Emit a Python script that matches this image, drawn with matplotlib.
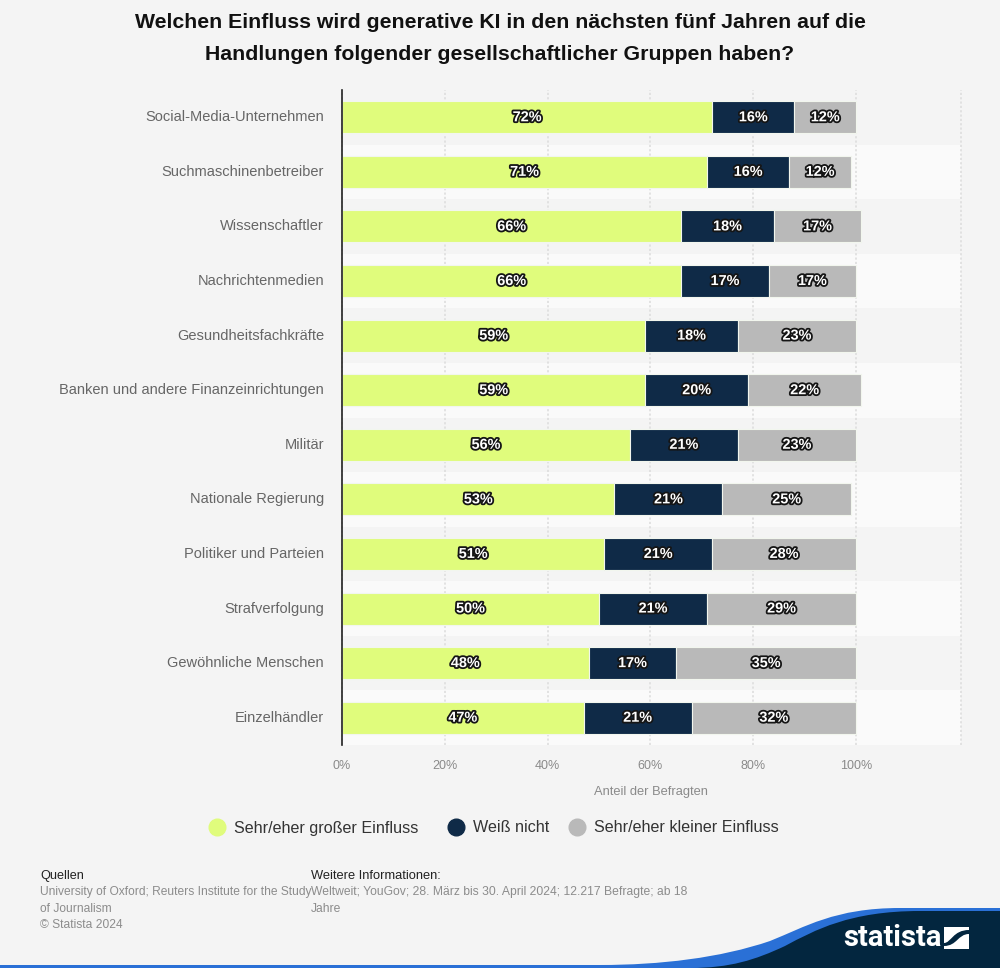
import matplotlib
matplotlib.use("Agg")
import matplotlib.pyplot as plt
import matplotlib.patheffects as pe
from matplotlib.lines import Line2D
from matplotlib.patches import PathPatch, Rectangle
from matplotlib.path import Path

plt.rcParams['font.family'] = ['Liberation Sans', 'DejaVu Sans']

categories = ["Social-Media-Unternehmen", "Suchmaschinenbetreiber", "Wissenschaftler",
              "Nachrichtenmedien", "Gesundheitsfachkräfte",
              "Banken und andere Finanzeinrichtungen", "Militär", "Nationale Regierung",
              "Politiker und Parteien", "Strafverfolgung", "Gewöhnliche Menschen", "Einzelhändler"]
gross = [72, 71, 66, 66, 59, 59, 56, 53, 51, 50, 48, 47]
weiss = [16, 16, 18, 17, 18, 20, 21, 21, 21, 21, 17, 21]
klein = [12, 12, 17, 17, 23, 22, 23, 25, 28, 29, 35, 32]
series_names = ["Sehr/eher großer Einfluss", "Weiß nicht", "Sehr/eher kleiner Einfluss"]
colors = ["#e0fc7c", "#0f2a47", "#b9b9b9"]
xticks = [0, 20, 40, 60, 80, 100]

W, H = 1000, 968
BG = "#f4f4f4"
fig = plt.figure(figsize=(W / 100, H / 100), dpi=100, facecolor=BG)
L, R, T, B = 342, 961, 90, 745
ax = fig.add_axes([L / W, 1 - B / H, (R - L) / W, (B - T) / H], facecolor=BG)
ax.set_xlim(0, (R - L) / 5.14)
ax.set_ylim(len(categories) - 0.5, -0.5)

for i in range(len(categories)):
    ax.axhspan(i - 0.5, i + 0.5, color="#fafafa" if i % 2 else BG, lw=0, zorder=0)
for x in xticks + [ax.get_xlim()[1]]:
    ax.axvline(x, color="#dedede", lw=1.2, ls=(0, (1.3, 1.3)), zorder=1, clip_on=False)

effects = [pe.withStroke(linewidth=2.6, foreground="#151515")]
left = [0] * len(categories)
for vals, col in zip([gross, weiss, klein], colors):
    for i, v in enumerate(vals):
        ax.barh(i, v, left=left[i], height=0.585, color=col, edgecolor="#f2f6ee", lw=0.8, zorder=2)
        ax.text(left[i] + v / 2, i, f"{v}%", ha="center", va="center", color="white",
                fontsize=10.4, fontweight="bold", zorder=3, path_effects=effects)
        left[i] += v

for s in ["top", "right", "bottom"]:
    ax.spines[s].set_visible(False)
ax.spines["left"].set_color("#222222")
ax.spines["left"].set_linewidth(1.2)
ax.spines["left"].set_zorder(5)
ax.set_yticks(range(len(categories)), categories, fontsize=10.55, color="#666666")
for lab in ax.get_yticklabels():
    lab.set_y(0)
    lab.set_verticalalignment("center")
    lab.set_transform(lab.get_transform() + matplotlib.transforms.ScaledTranslation(0, 1.5 / 100, fig.dpi_scale_trans))
ax.set_xticks(xticks, [f"{x}%" for x in xticks], fontsize=9, color="#8a8a8a")
ax.tick_params(axis="y", length=0, pad=13)
ax.tick_params(axis="x", length=0, pad=10.5)

fig.text(500 / W, 1 - 23 / H, "Welchen Einfluss wird generative KI in den nächsten fünf Jahren auf die",
         ha="center", va="center", fontsize=15.3, fontweight="bold", color="#111111")
fig.text(500 / W, 1 - 55 / H, "Handlungen folgender gesellschaftlicher Gruppen haben?",
         ha="center", va="center", fontsize=15.3, fontweight="bold", color="#111111")
fig.text(650.5 / W, 1 - 792 / H, "Anteil der Befragten", ha="center", va="center",
         fontsize=9.3, color="#8a8a8a")

for name, col, xpos in zip(series_names, colors, [209, 448, 569]):
    handle = Line2D([], [], marker="o", ls="", ms=12, color=col, label=name)
    leg = fig.legend(handles=[handle], loc="center left", bbox_to_anchor=(xpos / W, 1 - 828 / H),
                     frameon=False, prop={"size": 11.6}, labelcolor="#333333",
                     handlelength=1.0, handletextpad=0.55, borderpad=0, borderaxespad=0)

foot = "#8c8c8c"
fig.text(40 / W, 1 - 876 / H, "Quellen", va="center", fontsize=9.1, color="#222222")
fig.text(40 / W, 1 - 892 / H, "University of Oxford; Reuters Institute for the Study", va="center", fontsize=8.65, color=foot)
fig.text(40 / W, 1 - 908.5 / H, "of Journalism", va="center", fontsize=8.65, color=foot)
fig.text(40 / W, 1 - 925 / H, "© Statista 2024", va="center", fontsize=8.65, color=foot)
fig.text(311 / W, 1 - 876 / H, "Weitere Informationen:", va="center", fontsize=9.3, color="#222222")
fig.text(311 / W, 1 - 892 / H, "Weltweit; YouGov; 28. März bis 30. April 2024; 12.217 Befragte; ab 18", va="center", fontsize=8.75, color=foot)
fig.text(311 / W, 1 - 908.5 / H, "Jahre", va="center", fontsize=8.75, color=foot)

# footer wave and logo, in pixel coordinates
o = fig.add_axes([0, 0, 1, 1], facecolor="none", zorder=10)
o.set_xlim(0, W); o.set_ylim(H, 0); o.axis("off")
o.add_patch(PathPatch(Path([(0, 965), (600, 965), (660, 965), (720, 958), (770, 941), (805, 927), (835, 908), (900, 908),
                            (1000, 908), (1000, 968), (0, 968), (0, 965)],
                           [Path.MOVETO, Path.LINETO, Path.CURVE4, Path.CURVE4, Path.CURVE4, Path.CURVE4,
                            Path.CURVE4, Path.CURVE4, Path.LINETO, Path.LINETO, Path.LINETO, Path.CLOSEPOLY]),
                      fc="#2a70d6", lw=0))
o.add_patch(PathPatch(Path([(690, 968), (730, 968), (755, 960), (785, 946), (815, 930), (850, 911), (920, 911),
                            (1000, 911), (1000, 968), (690, 968)],
                           [Path.MOVETO, Path.CURVE4, Path.CURVE4, Path.CURVE4, Path.CURVE4, Path.CURVE4,
                            Path.CURVE4, Path.LINETO, Path.LINETO, Path.CLOSEPOLY]),
                      fc="#03263f", lw=0))
o.text(843, 938, "statista", color="white", fontsize=21, fontweight="bold", va="center", ha="left",
       family=["Roboto", "Liberation Sans"])
o.add_patch(Rectangle((944, 927), 25, 22, fc="white", lw=0))
o.add_patch(PathPatch(Path([(944, 943), (951, 943), (953, 930), (969, 930), (969, 934), (958, 934), (957, 946), (944, 946), (944, 943)],
                           [Path.MOVETO, Path.CURVE4, Path.CURVE4, Path.CURVE4, Path.LINETO, Path.CURVE4, Path.CURVE4, Path.CURVE4, Path.CLOSEPOLY]),
                      fc="#03263f", lw=0))

fig.savefig("out.png", dpi=100, facecolor=BG)
